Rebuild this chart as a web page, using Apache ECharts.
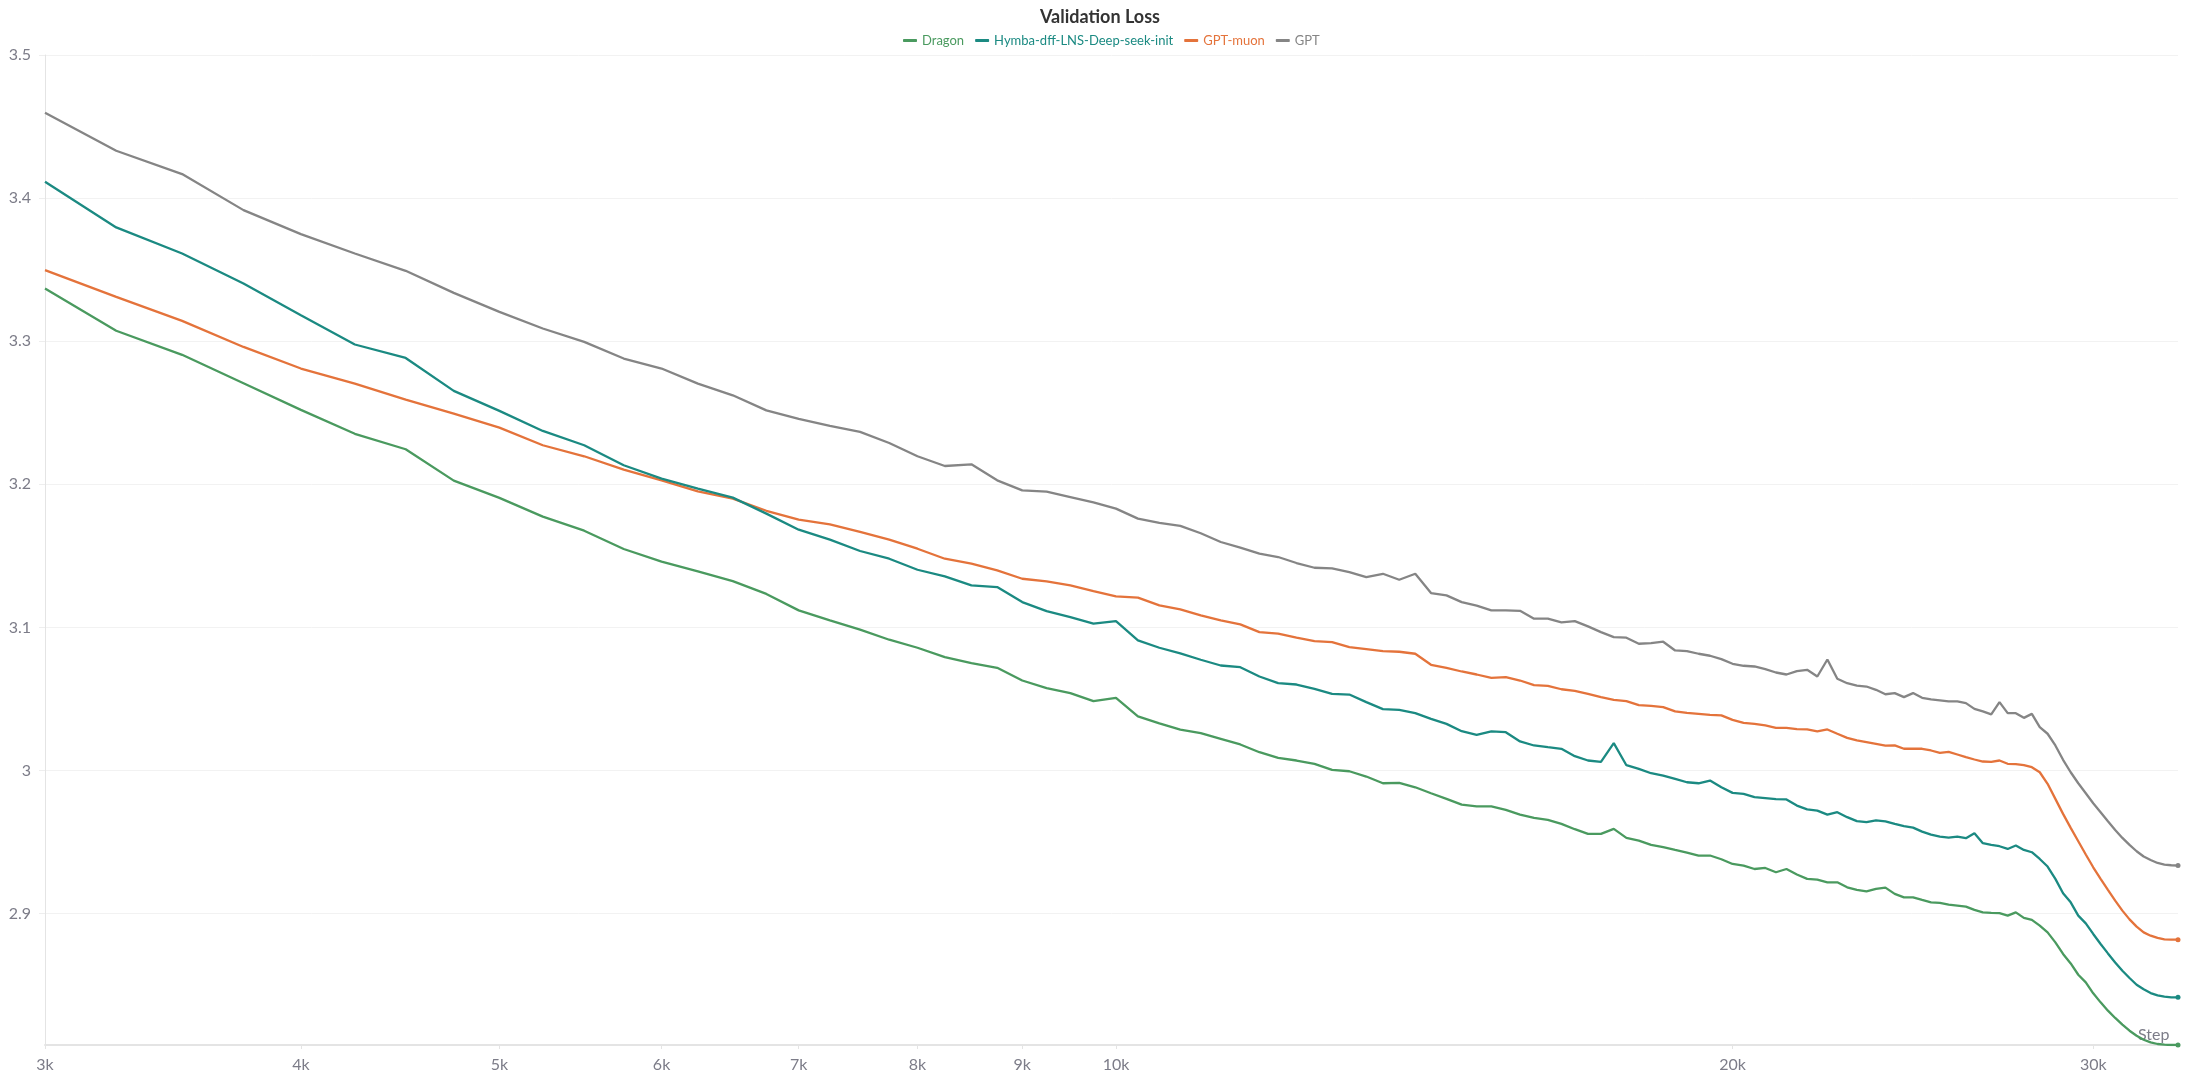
<!DOCTYPE html>
<html>
<head>
<meta charset="utf-8">
<script src="https://cdn.jsdelivr.net/npm/echarts@6/dist/echarts.min.js"></script>
<style>
html,body{margin:0;padding:0;background:#fff;}
#chart{width:2200px;height:1085px;}
</style>
</head>
<body>
<div id="chart"></div>
<script>
const steps = [
  3000,3250,3500,3750,4000,4250,4500,4750,5000,5250,5500,5750,6000,6250,6500,6750,
  7000,7250,7500,7750,8000,8250,8500,8750,9000,9250,9500,9750,10000,10250,10500,10750,
  11000,11250,11500,11750,12000,12250,12500,12750,13000,13250,13500,13750,14000,14250,14500,14750,
  15000,15250,15500,15750,16000,16250,16500,16750,17000,17250,17500,17750,18000,18250,18500,18750,
  19000,19250,19500,19750,20000,20250,20500,20750,21000,21250,21500,21750,22000,22250,22500,22750,
  23000,23250,23500,23750,24000,24250,24500,24750,25000,25250,25500,25750,26000,26250,26500,26750,
  27000,27250,27500,27750,28000,28250,28500,28750,29000,29250,29500,29750,30000,30250,30500,30750,
  31000,31250,31500,31750,32000,32250,32500,32750,33000
];

const dragon = [
  3.3368,3.3073,3.2905,3.2706,3.2520,3.2353,3.2245,3.2026,3.1905,3.1774,3.1676,3.1548,3.1460,3.1392,3.1323,3.1234,
  3.1119,3.1049,3.0984,3.0914,3.0858,3.0792,3.0750,3.0718,3.0629,3.0576,3.0541,3.0485,3.0508,3.0378,3.0330,3.0286,
  3.0261,3.0221,3.0182,3.0128,3.0089,3.0070,3.0047,3.0005,2.9995,2.9958,2.9911,2.9914,2.9883,2.9841,2.9802,2.9762,
  2.9750,2.9750,2.9725,2.9692,2.9669,2.9655,2.9627,2.9590,2.9557,2.9557,2.9592,2.9529,2.9510,2.9480,2.9464,2.9445,
  2.9427,2.9406,2.9406,2.9380,2.9347,2.9336,2.9312,2.9319,2.9289,2.9312,2.9273,2.9243,2.9238,2.9219,2.9219,2.9184,
  2.9166,2.9156,2.9173,2.9182,2.9138,2.9114,2.9114,2.9096,2.9079,2.9075,2.9063,2.9056,2.9049,2.9026,2.9009,2.9005,
  2.9003,2.8986,2.9009,2.8970,2.8956,2.8916,2.8869,2.8799,2.8718,2.8652,2.8573,2.8520,2.8443,2.8380,2.8322,2.8271,
  2.8224,2.8182,2.8147,2.8119,2.8100,2.8089,2.8085,2.8082,2.8082
];

const hymba = [
  3.4114,3.3795,3.3613,3.3403,3.3182,3.2977,3.2883,3.2653,3.2513,3.2373,3.2273,3.2133,3.2040,3.1970,3.1907,3.1795,
  3.1683,3.1613,3.1534,3.1480,3.1403,3.1357,3.1294,3.1282,3.1177,3.1114,3.1072,3.1026,3.1044,3.0909,3.0858,3.0818,
  3.0774,3.0734,3.0722,3.0657,3.0611,3.0601,3.0571,3.0536,3.0531,3.0478,3.0429,3.0424,3.0401,3.0361,3.0326,3.0275,
  3.0249,3.0273,3.0268,3.0203,3.0175,3.0163,3.0152,3.0100,3.0070,3.0061,3.0191,3.0037,3.0012,2.9981,2.9965,2.9942,
  2.9918,2.9911,2.9930,2.9883,2.9844,2.9837,2.9814,2.9807,2.9800,2.9798,2.9755,2.9729,2.9720,2.9692,2.9709,2.9674,
  2.9646,2.9639,2.9652,2.9645,2.9627,2.9611,2.9601,2.9573,2.9552,2.9538,2.9531,2.9538,2.9527,2.9562,2.9492,2.9480,
  2.9471,2.9452,2.9476,2.9445,2.9429,2.9382,2.9329,2.9243,2.9142,2.9079,2.8986,2.8932,2.8858,2.8788,2.8722,2.8659,
  2.8601,2.8550,2.8503,2.8471,2.8445,2.8429,2.8420,2.8415,2.8415
];

const gptMuon = [
  3.3497,3.3310,3.3142,3.2960,3.2809,3.2704,3.2592,3.2494,3.2396,3.2273,3.2196,3.2103,3.2028,3.1951,3.1900,3.1815,
  3.1753,3.1720,3.1667,3.1613,3.1550,3.1480,3.1445,3.1399,3.1340,3.1322,3.1294,3.1254,3.1217,3.1208,3.1154,3.1126,
  3.1084,3.1049,3.1021,3.0967,3.0956,3.0928,3.0904,3.0897,3.0862,3.0848,3.0834,3.0830,3.0816,3.0739,3.0718,3.0692,
  3.0671,3.0648,3.0652,3.0629,3.0597,3.0592,3.0568,3.0557,3.0536,3.0513,3.0494,3.0485,3.0457,3.0452,3.0443,3.0413,
  3.0403,3.0396,3.0389,3.0385,3.0354,3.0333,3.0326,3.0315,3.0298,3.0298,3.0289,3.0287,3.0273,3.0287,3.0257,3.0228,
  3.0210,3.0198,3.0186,3.0174,3.0176,3.0152,3.0152,3.0152,3.0140,3.0124,3.0131,3.0112,3.0093,3.0077,3.0063,3.0061,
  3.0070,3.0047,3.0045,3.0037,3.0023,2.9988,2.9907,2.9802,2.9697,2.9599,2.9506,2.9413,2.9324,2.9243,2.9166,2.9091,
  2.9021,2.8960,2.8909,2.8869,2.8846,2.8830,2.8820,2.8818,2.8818
];

const gpt = [
  3.4597,3.4331,3.4168,3.3916,3.3748,3.3613,3.3492,3.3338,3.3205,3.3089,3.2995,3.2879,3.2809,3.2704,3.2622,3.2517,
  3.2458,3.2408,3.2366,3.2289,3.2196,3.2128,3.2140,3.2028,3.1958,3.1949,3.1911,3.1874,3.1830,3.1760,3.1730,3.1710,
  3.1658,3.1597,3.1557,3.1515,3.1492,3.1450,3.1417,3.1413,3.1387,3.1352,3.1375,3.1333,3.1375,3.1240,3.1224,3.1177,
  3.1152,3.1119,3.1119,3.1116,3.1061,3.1061,3.1035,3.1044,3.1007,3.0967,3.0932,3.0928,3.0886,3.0890,3.0900,3.0839,
  3.0834,3.0816,3.0802,3.0778,3.0746,3.0732,3.0727,3.0709,3.0685,3.0671,3.0695,3.0704,3.0657,3.0776,3.0641,3.0610,
  3.0594,3.0587,3.0564,3.0533,3.0541,3.0513,3.0541,3.0508,3.0497,3.0490,3.0483,3.0483,3.0471,3.0431,3.0413,3.0392,
  3.0478,3.0401,3.0401,3.0368,3.0396,3.0303,3.0257,3.0175,3.0075,2.9988,2.9911,2.9841,2.9771,2.9709,2.9646,2.9585,
  2.9529,2.9480,2.9436,2.9399,2.9375,2.9354,2.9343,2.9338,2.9336
];

const seriesNames = ['Dragon', 'Hymba-dff-LNS-Deep-seek-init', 'GPT-muon', 'GPT'];
const seriesValues = [dragon, hymba, gptMuon, gpt];
const seriesColors = ['#4a9a5f', '#1b8a82', '#e4733b', '#858585'];
const xTickValues = [3000, 4000, 5000, 6000, 7000, 8000, 9000, 10000, 20000, 30000];
const yMin = 2.8082, yMax = 3.5;

const chart = echarts.init(document.getElementById('chart'), null, {renderer: 'canvas'});

const FONT = 'Lato, "Noto Sans", sans-serif';
const labelColor = '#7c7c88';

const series = seriesNames.map((name, i) => {
  const vals = seriesValues[i];
  const data = vals.map((v, j) => {
    if (j === vals.length - 1) {
      return {value: [steps[j], v], symbol: 'circle', symbolSize: 5};
    }
    return [steps[j], v];
  });
  return {
    name: name,
    type: 'line',
    data: data,
    symbol: 'none',
    showSymbol: true,
    smooth: false,
    lineStyle: {width: 2.3, color: seriesColors[i]},
    itemStyle: {color: seriesColors[i]},
    emphasis: {disabled: true},
    z: 10 - i
  };
});

chart.setOption({
  animation: false,
  backgroundColor: '#ffffff',
  title: {
    text: 'Validation Loss',
    left: 'center',
    top: 3,
    textStyle: {fontFamily: FONT, fontSize: 18, fontWeight: 'bold', color: '#333'}
  },
  legend: {
    top: 29,
    left: 898,
    itemWidth: 14,
    itemHeight: 3,
    itemGap: 11,
    icon: 'roundRect',
    textStyle: {fontFamily: FONT, fontSize: 13},
    data: seriesNames.map((n, i) => ({name: n, textStyle: {color: seriesColors[i]}, itemStyle: {color: seriesColors[i]}}))
  },
  grid: {left: 45, right: 22, top: 55, bottom: 40},
  xAxis: {
    type: 'log',
    logBase: 10,
    min: 3000,
    max: 33000,
    name: 'Step',
    nameLocation: 'end',
    nameGap: -40,
    nameTextStyle: {fontFamily: FONT, fontSize: 16, color: labelColor, verticalAlign: 'bottom', padding: [0, 0, 2, 0]},
    axisLine: {show: true, lineStyle: {color: '#e4e4e4', width: 2}},
    axisTick: {show: true, customValues: xTickValues, length: 4, lineStyle: {color: '#e4e4e4'}},
    axisLabel: {
      customValues: xTickValues,
      margin: 12,
      fontFamily: FONT, fontSize: 16, color: labelColor,
      formatter: v => (Math.round(v / 1000)) + 'k'
    },
    splitLine: {show: false},
    minorTick: {show: false}
  },
  yAxis: {
    type: 'value',
    min: yMin,
    max: yMax,
    axisLine: {show: true, lineStyle: {color: '#e4e4e4', width: 1}},
    axisTick: {show: true, length: 6, lineStyle: {color: '#eeeeee'}},
    axisLabel: {
      margin: 14,
      showMinLabel: false,
      fontFamily: FONT, fontSize: 16, color: labelColor,
      formatter: v => {
        if (Math.abs(v * 10 - Math.round(v * 10)) > 1e-6) return '';
        return String(Math.round(v * 10) / 10);
      }
    },
    splitLine: {show: true, lineStyle: {color: '#f2f2f2', width: 1}}
  },
  series: series
});
</script>
</body>
</html>
